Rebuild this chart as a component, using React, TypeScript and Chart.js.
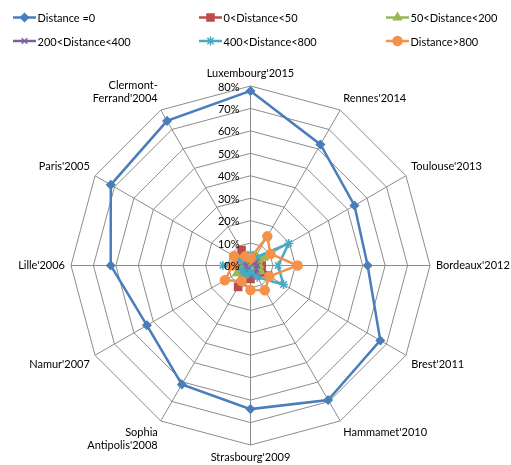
import { useEffect, useRef } from "react";
import { Chart, registerables } from "chart.js";
import { drawPoint } from "chart.js/helpers";
Chart.register(...registerables);

const categories: (string | string[])[] = [
  "Luxembourg'2015",
  "Rennes'2014",
  "Toulouse'2013",
  "Bordeaux'2012",
  "Brest'2011",
  "Hammamet'2010",
  "Strasbourg'2009",
  ["Sophia", "Antipolis'2008"],
  "Namur'2007",
  "Lille'2006",
  "Paris'2005",
  ["Clermont-", "Ferrand'2004"],
];

const seriesNames = [
  "Distance =0",
  "0<Distance<50",
  "50<Distance<200",
  "200<Distance<400",
  "400<Distance<800",
  "Distance>800",
];

const distance0 = [77.8, 62.3, 53.5, 52.2, 66.8, 69.2, 64, 61.2, 53.3, 62.3, 71.9, 74.4];
const distance0to50 = [4, 3, 4, 5, 9, 5, 6, 11, 5, 4, 6, 8];
const distance50to200 = [3, 5, 7, 4, 5, 3, 3, 5, 7, 3, 4, 2];
const distance200to400 = [4, 3, 2, 3, 3, 5, 5, 2, 3, 2, 3, 4];
const distance400to800 = [5, 4, 19.7, 12.3, 17, 6, 3, 5, 4, 12.3, 5, 3];
const distanceOver800 = [3.3, 15, 10.3, 21, 9.7, 12.7, 10.9, 8, 13.2, 8, 8.5, 4.7];

const tickValues = [0, 10, 20, 30, 40, 50, 60, 70, 80];

const FONT = "Lato, 'DejaVu Sans', sans-serif";

export default function App() {
  const ref = useRef<HTMLCanvasElement>(null);
  useEffect(() => {
    const prevMargin = document.body.style.margin;
    document.body.style.margin = "0";
    const canvas = ref.current!;
    const colors = ["#4A7EBB", "#BE4B48", "#98B954", "#7D60A0", "#46AAC5", "#F4924A"];
    const styles = ["rectRot", "rect", "triangle", "crossRot", "star", "circle"];
    const radii = [4, 5, 4.5, 4, 4.5, 4.5];
    const series = [
      distance0,
      distance0to50,
      distance50to200,
      distance200to400,
      distance400to800,
      distanceOver800,
    ];

    // fixed radar geometry (canvas px) to match the reference layout
    const geometryPlugin = {
      id: "radarGeometry",
      beforeLayout(chart: any) {
        const s = chart.scales.r;
        if (!s) return;
        s.setCenterPoint = function () {
          this.xCenter = 250.5;
          this.yCenter = 265.5;
          this.drawingArea = 179.5;
        };
      },
    };

    const tickPlugin = {
      id: "tickLabels",
      afterDraw(chart: any) {
        const s = chart.scales.r;
        const ctx = chart.ctx;
        ctx.save();
        ctx.font = `11px ${FONT}`;
        ctx.fillStyle = "#000";
        ctx.textAlign = "right";
        ctx.textBaseline = "middle";
        tickValues.forEach((v) => {
          const y = s.yCenter - s.getDistanceFromCenterForValue(v);
          ctx.fillText(v + "%", s.xCenter - 11, y + 1);
        });
        ctx.restore();
      },
    };

    const legendPlugin = {
      id: "gridLegend",
      afterDraw(chart: any) {
        const ctx = chart.ctx;
        ctx.save();
        ctx.font = `11px ${FONT}`;
        ctx.textBaseline = "middle";
        ctx.textAlign = "left";
        const colX = [13, 199, 386];
        const rowY = [17.5, 41];
        seriesNames.forEach((name, i) => {
          const x = colX[i % 3];
          const y = rowY[Math.floor(i / 3)];
          ctx.strokeStyle = colors[i];
          ctx.lineWidth = 2.5;
          ctx.beginPath();
          ctx.moveTo(x, y);
          ctx.lineTo(x + 23, y);
          ctx.stroke();
          ctx.fillStyle = colors[i];
          ctx.lineWidth = 1.5;
          drawPoint(
            ctx,
            { pointStyle: styles[i], radius: radii[i], borderWidth: 1.5, rotation: 0 } as any,
            x + 11.5,
            y
          );
          ctx.fillStyle = "#000";
          ctx.fillText(name, x + 24.5, y + 1);
        });
        ctx.restore();
      },
    };

    const chart = new Chart(canvas, {
      type: "radar",
      data: {
        labels: categories as any,
        datasets: seriesNames.map((n, i) => ({
          label: n,
          data: series[i],
          borderColor: colors[i],
          backgroundColor: colors[i],
          pointBackgroundColor: colors[i],
          pointBorderColor: colors[i],
          pointStyle: styles[i] as any,
          pointRadius: radii[i],
          pointBorderWidth: 1.5,
          borderWidth: 2.5,
          fill: false,
          tension: 0,
          order: 5 - i,
          clip: false as any,
        })),
      },
      options: {
        responsive: false,
        animation: false,
        layout: { autoPadding: false, padding: { top: 60, left: 0, right: 0, bottom: 0 } },
        plugins: { legend: { display: false }, tooltip: { enabled: false } },
        scales: {
          r: {
            min: 0,
            max: 80,
            ticks: { stepSize: 10, display: false },
            grid: { color: "#8c8c8c", lineWidth: 1 },
            angleLines: { color: "#8c8c8c", lineWidth: 1 },
            pointLabels: {
              font: { family: FONT, size: 11 },
              color: "#000",
              padding: 6,
            },
          },
        },
      },
      plugins: [geometryPlugin, tickPlugin, legendPlugin],
    });
    return () => {
      chart.destroy();
      document.body.style.margin = prevMargin;
    };
  }, []);
  return <canvas ref={ref} width={511} height={465} style={{ display: "block" }} />;
}
